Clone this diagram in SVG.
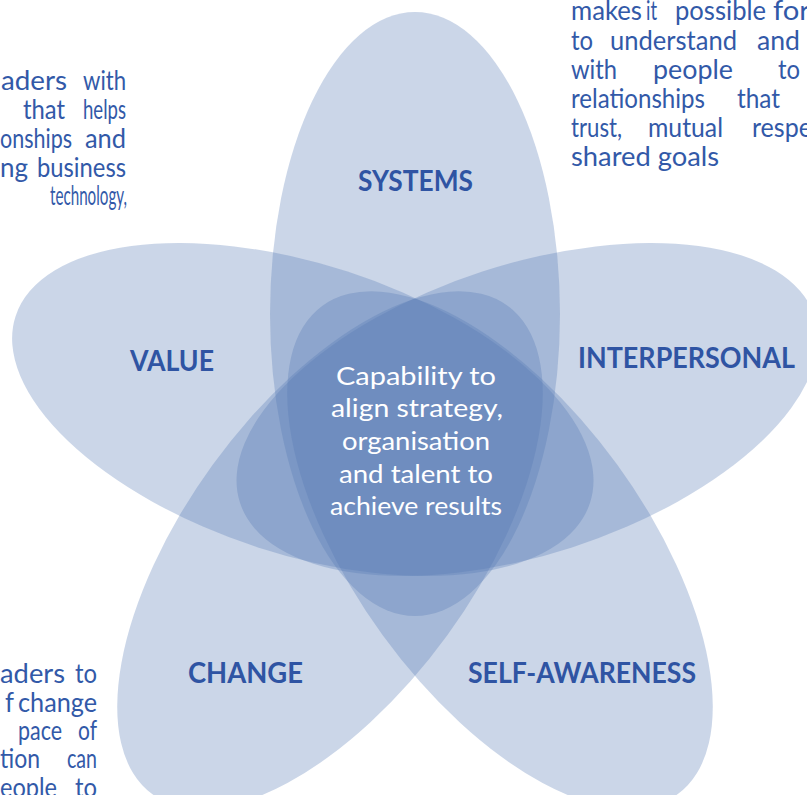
<svg xmlns="http://www.w3.org/2000/svg" width="807" height="795" viewBox="0 0 807 795">
<style>
.petal{fill:#5276b2;fill-opacity:0.3;}
.lbl{font-family:"Lato","Liberation Sans",sans-serif;font-weight:700;font-size:28px;fill:#2f54a3;}
.body{font-family:"Lato","Liberation Sans",sans-serif;font-size:26px;fill:#3259a8;}
.core{font-family:"Lato","Liberation Sans",sans-serif;font-size:25px;fill:#ffffff;text-anchor:middle;}
</style>
<rect width="807" height="795" fill="#ffffff"/>
<g id="systems">
<ellipse class="petal" cx="0" cy="0" rx="145" ry="302" transform="translate(415,314)"/>
<text class="lbl" x="358" y="191" textLength="115" lengthAdjust="spacingAndGlyphs">SYSTEMS</text>
</g>
<g id="interpersonal">
<ellipse class="petal" cx="0" cy="0" rx="145" ry="302" transform="translate(527.2,409.5) rotate(72)"/>
<text class="lbl" x="578" y="368" textLength="217" lengthAdjust="spacingAndGlyphs">INTERPERSONAL</text>
</g>
<g id="self-awareness">
<ellipse class="petal" cx="0" cy="0" rx="145" ry="302" transform="translate(500,550) rotate(144)"/>
<text class="lbl" x="468" y="683" textLength="228" lengthAdjust="spacingAndGlyphs">SELF-AWARENESS</text>
</g>
<g id="change">
<ellipse class="petal" cx="0" cy="0" rx="145" ry="302" transform="translate(330,550) rotate(216)"/>
<text class="lbl" x="188" y="683" textLength="115" lengthAdjust="spacingAndGlyphs">CHANGE</text>
</g>
<g id="value">
<ellipse class="petal" cx="0" cy="0" rx="145" ry="302" transform="translate(302.8,409.5) rotate(288)"/>
<text class="lbl" x="130" y="371" textLength="84" lengthAdjust="spacingAndGlyphs">VALUE</text>
</g>
<g id="core">
<text class="core" x="416" y="385" textLength="160" lengthAdjust="spacingAndGlyphs">Capability to</text>
<text class="core" x="417" y="417" textLength="172" lengthAdjust="spacingAndGlyphs">align strategy,</text>
<text class="core" x="416" y="450" textLength="148" lengthAdjust="spacingAndGlyphs">organisation</text>
<text class="core" x="416" y="483" textLength="154" lengthAdjust="spacingAndGlyphs">and talent to</text>
<text class="core" x="416" y="515" textLength="172" lengthAdjust="spacingAndGlyphs">achieve results</text>
</g>
<g id="text-top-left" class="body">
<text x="1" y="90" textLength="66" lengthAdjust="spacingAndGlyphs">aders</text>
<text x="83" y="90" textLength="43" lengthAdjust="spacingAndGlyphs">with</text>
<text x="23" y="119" textLength="42" lengthAdjust="spacingAndGlyphs">that</text>
<text x="83" y="119" textLength="43" lengthAdjust="spacingAndGlyphs">helps</text>
<text x="0" y="148" textLength="72" lengthAdjust="spacingAndGlyphs">onships</text>
<text x="85" y="148" textLength="41" lengthAdjust="spacingAndGlyphs">and</text>
<text x="0" y="177" textLength="28" lengthAdjust="spacingAndGlyphs">ng</text>
<text x="37" y="177" textLength="89" lengthAdjust="spacingAndGlyphs">business</text>
<text x="50" y="205" textLength="77" lengthAdjust="spacingAndGlyphs">technology,</text>
</g>
<g id="text-top-right" class="body">
<text x="571" y="20" textLength="71" lengthAdjust="spacingAndGlyphs">makes</text>
<text x="646" y="20" textLength="11" lengthAdjust="spacingAndGlyphs">it</text>
<text x="675" y="20" textLength="91" lengthAdjust="spacingAndGlyphs">possible</text>
<text x="773" y="20" textLength="37" lengthAdjust="spacingAndGlyphs">for</text>
<text x="571" y="50" textLength="22" lengthAdjust="spacingAndGlyphs">to</text>
<text x="610" y="50" textLength="127" lengthAdjust="spacingAndGlyphs">understand</text>
<text x="757" y="50" textLength="43" lengthAdjust="spacingAndGlyphs">and</text>
<text x="571" y="79" textLength="46" lengthAdjust="spacingAndGlyphs">with</text>
<text x="653" y="79" textLength="80" lengthAdjust="spacingAndGlyphs">people</text>
<text x="778" y="79" textLength="22" lengthAdjust="spacingAndGlyphs">to</text>
<text x="571" y="108" textLength="134" lengthAdjust="spacingAndGlyphs">relationships</text>
<text x="737" y="108" textLength="43" lengthAdjust="spacingAndGlyphs">that</text>
<text x="571" y="137" textLength="51" lengthAdjust="spacingAndGlyphs">trust,</text>
<text x="648" y="137" textLength="75" lengthAdjust="spacingAndGlyphs">mutual</text>
<text x="752" y="137" textLength="60" lengthAdjust="spacingAndGlyphs">respe</text>
<text x="571" y="166" textLength="148" lengthAdjust="spacingAndGlyphs">shared goals</text>
</g>
<g id="text-bottom-left" class="body">
<text x="0" y="683" textLength="65" lengthAdjust="spacingAndGlyphs">aders</text>
<text x="75" y="683" textLength="22" lengthAdjust="spacingAndGlyphs">to</text>
<text x="5" y="712" textLength="9" lengthAdjust="spacingAndGlyphs">f</text>
<text x="18" y="712" textLength="79" lengthAdjust="spacingAndGlyphs">change</text>
<text x="18" y="740" textLength="44" lengthAdjust="spacingAndGlyphs">pace</text>
<text x="78" y="740" textLength="19" lengthAdjust="spacingAndGlyphs">of</text>
<text x="0" y="768" textLength="40" lengthAdjust="spacingAndGlyphs">tion</text>
<text x="67" y="768" textLength="30" lengthAdjust="spacingAndGlyphs">can</text>
<text x="0" y="797" textLength="57" lengthAdjust="spacingAndGlyphs">eople</text>
<text x="75" y="797" textLength="22" lengthAdjust="spacingAndGlyphs">to</text>
</g>
</svg>
